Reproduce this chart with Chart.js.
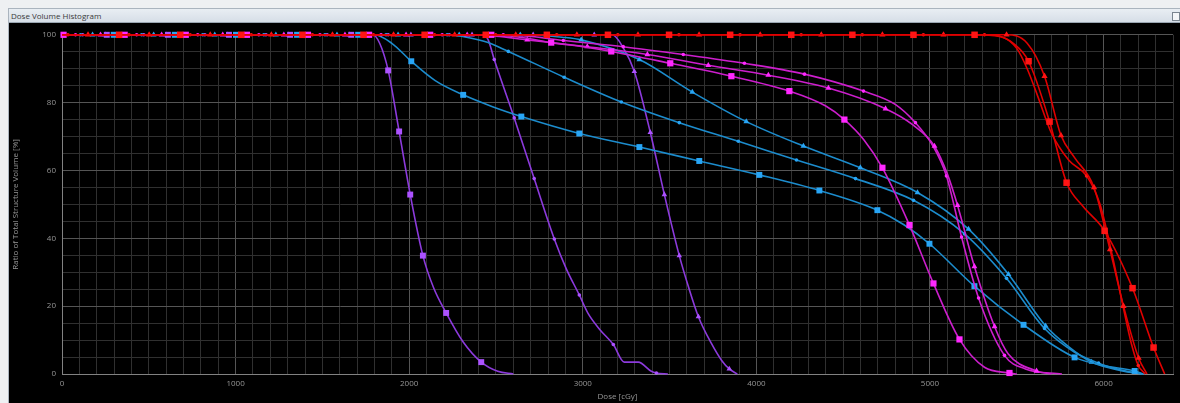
<!DOCTYPE html>
<html>
<head>
<meta charset="utf-8">
<script src="https://cdn.jsdelivr.net/npm/chart.js@4.4.0/dist/chart.umd.min.js"></script>
<style>
  html, body { margin:0; padding:0; background:#eef0f2; width:1180px; height:403px; overflow:hidden; }
  #frame { position:absolute; left:8px; top:8px; width:1172px; height:395px; border-top:1px solid #aab4be; border-left:1px solid #aab4be; background:#000; }
  #titlebar { position:absolute; left:0; top:0; width:1172px; height:14px; background:linear-gradient(#e9eef3,#d6dee7); border-bottom:1px solid #9aa6b2;
              font-family:"Open Sans","DejaVu Sans",sans-serif; font-size:8px; line-height:14px; color:#3a3a3a; padding-left:2px; box-sizing:border-box; }
  #btn { position:absolute; right:1px; top:3px; width:6px; height:7px; border:1px solid #7a8590; background:#f4f6f8; }
  #wrap { position:absolute; left:1px; top:15px; width:1171px; height:379px; background:#000; }
  canvas { display:block; }
</style>
</head>
<body>
<div id="frame">
  <div id="titlebar">Dose Volume Histogram<div id="btn"></div></div>
  <div id="wrap"><canvas id="c" width="1171" height="379"></canvas></div>
</div>
<script>
// ---- axis ticks ----
const X_MAX = 6400;
const X_LABEL_STEP = 1000;
const Y_TICKS = [0, 20, 40, 60, 80, 100];

// ---- purple curves ----
const P1_DOSE = [0,258,610,962,1314,1666,1790,1830,1879,1942,2006,2079,2140,2213,2310,2415,2510,2600];
const P1_VOL  = [100,100,100,100,100,100,100,97.5,89.5,71.5,52.9,34.9,25.5,18.0,9.5,3.5,0.8,0];
const P1_MARK = [0,1,1,1,1,1,0,0,1,1,1,1,0,1,0,1,0,0];

const P2_DOSE = [0,119,471,823,1175,1527,1879,2231,2420,2455,2490,2605,2720,2836,2905,2980,3032,3100,3176,3239,3320,3395,3424,3490];
const P2_VOL  = [100,100,100,100,100,100,100,100,100,98.5,92.7,75.5,57.6,39.8,31,23.3,17.7,13,8.7,3.5,3.5,0.8,0.3,0];
const P2_MARK = [0,1,1,1,1,1,1,1,0,0,1,1,1,1,0,1,0,0,1,0,0,0,1,0];

const P3_DOSE = [0,250,602,954,1306,1658,2010,2362,2714,3066,3170,3235,3297,3389,3470,3556,3610,3666,3741,3800,3844,3890];
const P3_VOL  = [100,100,100,100,100,100,100,100,100,100,100,96,89.2,71.2,52.9,34.9,25.5,16.9,9,4,1.5,0];
const P3_MARK = [0,1,1,1,1,1,1,1,1,1,0,0,1,1,1,1,0,1,0,0,1,0];

// ---- blue curves ----
const B1_DOSE = [0,298,650,1002,1354,1706,1800,1900,2012,2150,2311,2480,2646,2980,3326,3671,4017,4363,4697,4850,4997,5256,5539,5833,6000,6179,6230];
const B1_VOL  = [100,100,100,100,100,100,100,97.5,92.2,86.5,82.3,78.8,75.9,70.9,66.9,62.8,58.7,54.1,48.3,44,38.4,25.9,14.5,4.9,2.5,0.9,0];
const B1_MARK = [0,1,1,1,1,1,0,0,1,0,1,0,1,1,1,1,1,1,1,0,1,1,1,1,0,1,0];

const B2_DOSE = [0,107,459,811,1163,1515,1867,2219,2330,2450,2571,2893,3222,3556,3896,4231,4571,4905,5199,5441,5660,5831,5971,6100,6220];
const B2_VOL  = [100,100,100,100,100,100,100,100,99.3,97.8,95.1,87.5,80.2,74.1,68.6,63.1,57.6,51.2,41.3,28.2,13.4,6.5,3.2,1.2,0];
const B2_MARK = [0,1,1,1,1,1,1,1,0,0,1,1,1,1,1,1,1,1,1,1,1,0,1,0,0];

const B3_DOSE = [0,176,528,880,1232,1584,1936,2288,2640,2760,2880,2991,3326,3631,3942,4271,4599,4928,5222,5452,5666,5800,5931,6100,6230];
const B3_VOL  = [100,100,100,100,100,100,100,100,100,99.8,99.3,98.5,92.7,83.1,74.4,67.2,60.8,53.5,42.7,29.4,14.2,8,3.5,1,0];
const B3_MARK = [0,1,1,1,1,1,1,1,1,0,0,1,1,1,1,1,1,1,1,1,1,0,1,0,0];

// ---- magenta curves ----
const M1_DOSE = [0,9,361,713,1065,1417,1769,2121,2473,2650,2818,3000,3164,3504,3856,4190,4400,4507,4620,4726,4882,5020,5170,5314,5458,5500];
const M1_VOL  = [100,100,100,100,100,100,100,100,100,99.2,97.7,96.5,95.1,91.6,87.8,83.4,79,75.0,69,60.8,43.9,26.7,10.2,2,0.3,0];
const M1_MARK = [0,1,1,1,1,1,1,1,1,0,1,0,1,1,1,1,0,1,0,1,1,1,1,0,1,0];

const M2_DOSE = [0,222,574,926,1278,1630,1982,2334,2500,2680,3026,3372,3723,4069,4415,4744,4900,5026,5100,5159,5256,5372,5450,5614,5700];
const M2_VOL  = [100,100,100,100,100,100,100,100,99.6,98.5,96.5,94.2,91.0,88.1,84.3,78.2,73.5,67.2,59,49.7,31.7,14.0,6,0.9,0];
const M2_MARK = [0,1,1,1,1,1,1,1,0,1,1,1,1,1,1,1,0,1,0,1,1,1,0,1,0];

const M3_DOSE = [0,78,430,782,1134,1486,1838,2190,2542,2700,2888,3233,3579,3931,4277,4617,4800,4916,5020,5095,5182,5280,5429,5550,5760];
const M3_VOL  = [100,100,100,100,100,100,100,100,100,99.5,98.3,96.5,94.2,91.6,88.4,83.4,79.5,74.1,67,58.4,40.4,22.4,5.5,1.5,0];
const M3_MARK = [0,1,1,1,1,1,1,1,1,0,1,1,1,1,1,1,0,1,0,1,1,1,1,0,0];

// ---- red curves ----
const R1_DOSE = [0,329,681,1033,1385,1737,2089,2441,2793,3145,3497,3849,4201,4553,4905,5257,5400,5480,5568,5689,5787,5880,6006,6167,6288,6352];
const R1_VOL  = [100,100,100,100,100,100,100,100,100,100,100,100,100,100,100,100,99.5,97.5,92.2,74.4,56.4,49.5,42.2,25.3,7.8,0];
const R1_MARK = [0,1,1,1,1,1,1,1,1,1,1,1,1,1,1,1,0,0,1,1,1,0,1,1,1,0];

const R2_DOSE = [0,150,502,854,1206,1558,1910,2262,2614,2966,3318,3670,4022,4374,4726,5078,5441,5560,5660,5755,5830,5945,6037,6115,6202,6250];
const R2_VOL  = [100,100,100,100,100,100,100,100,100,100,100,100,100,100,100,100,100,97.5,87.8,70.3,64,55,36.7,20,4.7,0];
const R2_MARK = [0,1,1,1,1,1,1,1,1,1,1,1,1,1,1,1,1,0,1,1,0,1,1,1,1,0];

const R3_DOSE = [0,34,386,738,1090,1442,1794,2146,2498,2850,3202,3554,3906,4258,4610,4962,5314,5420,5500,5560,5620,5700,5800,5902,5980,6050,6112,6160,6200,6240];
const R3_VOL  = [100,100,100,100,100,100,100,100,100,100,100,100,100,100,100,100,100,99.3,96,90,82,71,63,58.4,50,35,20,9,2.5,0];
const R3_MARK = [0,1,1,1,1,1,1,1,1,1,1,1,1,1,1,1,1,0,0,0,0,0,0,1,0,0,1,0,1,0];

// ---- styles ----
const PURPLE_LINE = 'rgb(140,58,220)', PURPLE_MK = 'rgb(172,82,255)';
const BLUE_LINE = 'rgb(28,140,205)', BLUE_MK = 'rgb(40,165,245)';
const MAG_LINE = 'rgb(205,30,205)', MAG_MK = 'rgb(255,40,255)';
const RED_LINE = 'rgb(225,0,0)', RED_MK = 'rgb(255,20,20)';

function curve(dose, vol, mark, line, mk, shape, r, order) {
  return {
    data: dose.map((d, i) => ({ x: d, y: vol[i] })),
    borderColor: line,
    borderWidth: 1.6,
    backgroundColor: mk,
    pointBackgroundColor: mk,
    pointBorderColor: mk,
    pointBorderWidth: 0,
    pointStyle: shape,
    pointRadius: mark.map(m => m ? r : 0),
    pointHoverRadius: 0,
    cubicInterpolationMode: 'monotone',
    fill: false,
    clip: false,
    order: order
  };
}

const datasets = [
  curve(R1_DOSE, R1_VOL, R1_MARK, RED_LINE, RED_MK, 'rect', 4.6, 0),
  curve(R2_DOSE, R2_VOL, R2_MARK, RED_LINE, RED_MK, 'triangle', 3.6, 0),
  curve(R3_DOSE, R3_VOL, R3_MARK, RED_LINE, RED_MK, 'circle', 1.8, 0),
  curve(M1_DOSE, M1_VOL, M1_MARK, MAG_LINE, MAG_MK, 'rect', 4.4, 1),
  curve(M2_DOSE, M2_VOL, M2_MARK, MAG_LINE, MAG_MK, 'triangle', 3.4, 1),
  curve(M3_DOSE, M3_VOL, M3_MARK, MAG_LINE, MAG_MK, 'circle', 1.8, 1),
  curve(B1_DOSE, B1_VOL, B1_MARK, BLUE_LINE, BLUE_MK, 'rect', 4.2, 2),
  curve(B2_DOSE, B2_VOL, B2_MARK, BLUE_LINE, BLUE_MK, 'circle', 1.8, 2),
  curve(B3_DOSE, B3_VOL, B3_MARK, BLUE_LINE, BLUE_MK, 'triangle', 3.4, 2),
  curve(P1_DOSE, P1_VOL, P1_MARK, PURPLE_LINE, PURPLE_MK, 'rect', 4.2, 3),
  curve(P2_DOSE, P2_VOL, P2_MARK, PURPLE_LINE, PURPLE_MK, 'circle', 1.8, 3),
  curve(P3_DOSE, P3_VOL, P3_MARK, PURPLE_LINE, PURPLE_MK, 'triangle', 3.2, 3)
];

const GRID_MINOR = 'rgb(48,48,48)';
const GRID_MAJOR = 'rgb(85,85,85)';
const AXIS_COLOR = 'rgb(130,130,130)';
const TEXT_COLOR = 'rgb(150,150,150)';
const FONT = { family: '"Open Sans","DejaVu Sans",sans-serif', size: 8 };

new Chart(document.getElementById('c'), {
  type: 'line',
  data: { datasets },
  options: {
    responsive: false,
    animation: false,
    devicePixelRatio: 1,
    events: [],
    layout: { padding: { left: 0, right: 8, top: 6, bottom: 0 } },
    plugins: { legend: { display: false }, tooltip: { enabled: false } },
    scales: {
      x: {
        type: 'linear',
        min: 0, max: X_MAX,
        afterFit: s => { s.height = 29; },
        afterBuildTicks: s => { const t = []; for (let v = 0; v <= X_MAX; v += 100) t.push({ value: v }); s.ticks = t; },
        ticks: {
          autoSkip: false, maxRotation: 0, padding: 5, color: TEXT_COLOR, font: FONT,
          callback: v => (v % X_LABEL_STEP === 0 ? String(v) : '')
        },
        grid: {
          drawTicks: false,
          color: c => (c.tick && c.tick.value % X_LABEL_STEP === 0 ? GRID_MAJOR : GRID_MINOR),
          lineWidth: 1
        },
        border: { display: true, color: AXIS_COLOR, width: 1 },
        title: { display: true, text: 'Dose [cGy]', color: TEXT_COLOR, font: FONT, padding: { top: 0, bottom: 1 } }
      },
      y: {
        type: 'linear',
        min: 0, max: 100,
        afterFit: s => { s.width = 52; },
        afterBuildTicks: s => { const t = []; for (let v = 0; v <= 100; v += 5) t.push({ value: v }); s.ticks = t; },
        ticks: {
          autoSkip: false, padding: 6, color: TEXT_COLOR, font: FONT,
          callback: v => (Y_TICKS.includes(v) ? String(v) : '')
        },
        grid: {
          drawTicks: false,
          color: c => (c.tick && Y_TICKS.includes(c.tick.value) ? GRID_MAJOR : GRID_MINOR),
          lineWidth: 1
        },
        border: { display: true, color: AXIS_COLOR, width: 1 },
        title: { display: true, text: 'Ratio of Total Structure Volume [%]', color: TEXT_COLOR, font: FONT, padding: { top: 1, bottom: 0 } }
      }
    }
  }
});
</script>
</body>
</html>
